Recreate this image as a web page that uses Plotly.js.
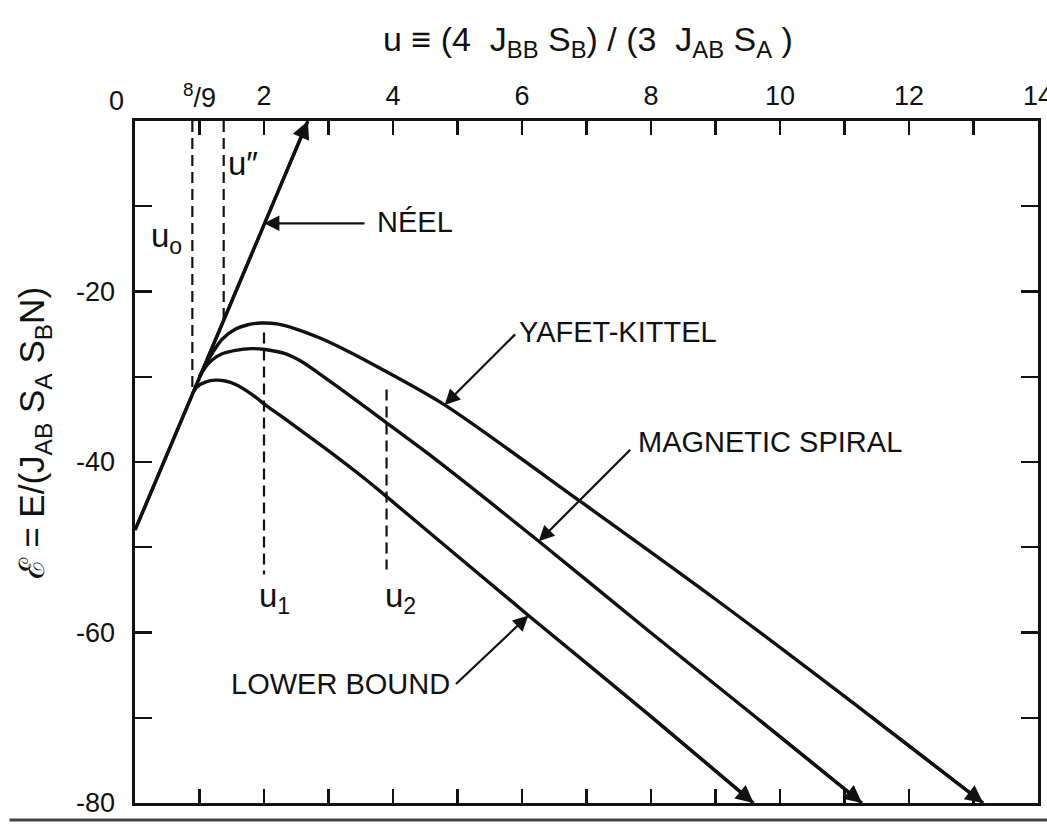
<!DOCTYPE html>
<html>
<head>
<meta charset="utf-8">
<script src="https://cdn.plot.ly/plotly-3.0.1.min.js"></script>
<style>
  html, body { margin: 0; padding: 0; background: #ffffff; }
  #chart { width: 1047px; height: 825px; }
</style>
</head>
<body>
<div id="chart"></div>
<script>
// Energy of the spin configurations versus u
const neelU = [0, 2.68];
const neelE = [-48, 0];

const ykU = [1.0, 1.1, 1.2, 1.35, 1.56, 1.75, 1.95, 2.2, 2.5, 2.85, 3.3, 3.8, 4.8, 6.9, 9.0, 11.4, 13.15];
const ykE = [-30.0, -28.5, -27.2, -25.6, -24.4, -23.9, -23.7, -23.8, -24.4, -25.4, -27.0, -29.0, -33.3, -44.6, -56.1, -69.8, -80.0];

const spiralU = [1.0, 1.1, 1.2, 1.35, 1.56, 1.8, 2.02, 2.33, 2.6, 2.85, 3.42, 3.88, 4.66, 6.26, 7.96, 9.67, 11.27];
const spiralE = [-30.0, -28.8, -28.0, -27.3, -26.9, -26.7, -26.8, -27.3, -28.3, -29.6, -32.7, -35.3, -39.7, -49.3, -59.8, -70.2, -80.0];

const lowerU = [0.889, 0.96, 1.1, 1.25, 1.4, 1.56, 1.8, 2.02, 2.3, 2.59, 3.11, 3.52, 3.78, 6.1, 7.96, 9.59];
const lowerE = [-32.0, -31.2, -30.6, -30.4, -30.5, -30.9, -32.0, -33.3, -34.8, -36.4, -39.3, -41.7, -43.3, -58.0, -69.6, -80.0];

// Characteristic values of u (dashed markers)
const guideU = [0.889, 1.375, 2.0, 3.9];
const guideFrom = [0, 0, -24.8, -31.5];
const guideTo = [-32.0, -23.2, -53.2, -52.6];
const guideLabels = ['u<sub>o</sub>', 'u\u2033', 'u<sub>1</sub>', 'u<sub>2</sub>'];

// Axis ticks
const xTickVals = [0,1,2,3,4,5,6,7,8,9,10,11,12,13,14];
const xTickText = ['','','2','','4','','6','','8','','10','','12','','14'];
const yTickVals = [-80,-70,-60,-50,-40,-30,-20,-10,0];
const yTickText = ['-80','','-60','','-40','','-20','',''];

const curveNames = ['N\u00c9EL', 'YAFET-KITTEL', 'MAGNETIC SPIRAL', 'LOWER BOUND'];

const FONT = 'Liberation Sans, Arial, sans-serif';
const INK = '#111111';

function curve(u, e) {
  return { x: u, y: e, type: 'scatter', mode: 'lines', hoverinfo: 'skip',
           line: { color: INK, width: 3.4, shape: 'spline', smoothing: 0.8 } };
}

const traces = [
  curve(neelU, neelE),
  curve(ykU, ykE),
  curve(spiralU, spiralE),
  curve(lowerU, lowerE)
];
guideU.forEach((u, i) => {
  traces.push({ x: [u, u], y: [guideFrom[i], guideTo[i]], type: 'scatter', mode: 'lines',
                hoverinfo: 'skip', line: { color: INK, width: 2.2, dash: '11px,6px' } });
});

const annotations = [];

// Arrowheads at the open ends of the curves
[[neelU, neelE], [ykU, ykE], [spiralU, spiralE], [lowerU, lowerE]].forEach(([u, e]) => {
  const n = u.length;
  annotations.push({ x: u[n - 1], y: e[n - 1], ax: u[n - 2], ay: e[n - 2],
    xref: 'x', yref: 'y', axref: 'x', ayref: 'y', text: '', showarrow: true,
    arrowhead: 2, arrowsize: 1.1, arrowwidth: 3.2, arrowcolor: INK, standoff: 0 });
});

// Curve labels with pointer arrows
function pointer(x, y, ax, ay) {
  annotations.push({ x: x, y: y, ax: ax, ay: ay, xref: 'x', yref: 'y', text: '',
    showarrow: true, arrowhead: 2, arrowsize: 1.4, arrowwidth: 2.2, arrowcolor: INK, standoff: 0 });
}
pointer(2.0, -12.0, 102, 0);
pointer(ykU[12], ykE[12], 72, -72);
pointer(spiralU[13], spiralE[13], 93, -93);
pointer(lowerU[13], lowerE[13], -74, 70);

function label(text, x, y, anchor, size) {
  annotations.push({ x: x, y: y, xref: 'x', yref: 'y', text: text, showarrow: false,
    xanchor: anchor, yanchor: 'middle', font: { family: FONT, size: size, color: INK } });
}
label(curveNames[0], 3.72, -11.9, 'left', 29);
label(curveNames[1], 5.92, -24.7, 'left', 29);
label(curveNames[2], 7.77, -37.7, 'left', 29);
label(curveNames[3], 4.92, -66.0, 'right', 29);

label(guideLabels[0], 0.49, -13.7, 'center', 33);
label(guideLabels[1], 1.68, -5.0, 'center', 33);
label(guideLabels[2], 2.17, -56.0, 'center', 33);
label(guideLabels[3], 4.12, -56.0, 'center', 33);

// Labels above the top axis: the u0 marker value and the origin
function paperLabel(text, x, y, size) {
  annotations.push({ xref: 'paper', yref: 'paper', x: x, y: y, text: text, showarrow: false,
    xanchor: 'center', yanchor: 'middle', font: { family: FONT, size: size, color: INK } });
}
paperLabel('<sup>8</sup>/9', 0.071, 1.036, 27);
paperLabel('0', -0.021, 1.03, 27);

// Axis titles
annotations.push({ xref: 'paper', yref: 'paper', x: 0.502, y: 1.117, showarrow: false,
  text: 'u \u2261 (4  J<sub>BB</sub> S<sub>B</sub>) / (3  J<sub>AB</sub> S<sub>A</sub> )',
  xanchor: 'center', yanchor: 'middle', font: { family: FONT, size: 34, color: INK } });
annotations.push({ xref: 'paper', yref: 'paper', x: -0.112, y: 0.543, showarrow: false,
  textangle: -90,
  text: '\u2130 = E/(J<sub>AB</sub> S<sub>A</sub> S<sub>B</sub>N)',
  xanchor: 'center', yanchor: 'middle', font: { family: FONT, size: 35, color: INK } });

const layout = {
  width: 1047, height: 825,
  margin: { l: 135, r: 9, t: 121, b: 22 },
  paper_bgcolor: '#ffffff', plot_bgcolor: '#ffffff',
  showlegend: false,
  xaxis: {
    range: [0, 14], side: 'top', showgrid: false, zeroline: false,
    tickmode: 'array', tickvals: xTickVals, ticktext: xTickText,
    ticks: 'inside', ticklen: 14, tickwidth: 2.2, tickcolor: INK,
    showline: true, linewidth: 2.6, linecolor: INK, mirror: 'ticks',
    ticklabelstandoff: 3, ticklabeloverflow: 'allow',
    tickfont: { family: FONT, size: 27, color: INK }
  },
  yaxis: {
    range: [-80, 0], showgrid: false, zeroline: false,
    tickmode: 'array', tickvals: yTickVals, ticktext: yTickText,
    ticks: 'inside', ticklen: 17, tickwidth: 2.2, tickcolor: INK,
    showline: true, linewidth: 2.6, linecolor: INK, mirror: 'ticks',
    ticklabelstandoff: 12,
    tickfont: { family: FONT, size: 27, color: INK }
  },
  shapes: [
    { type: 'line', xref: 'paper', yref: 'paper', x0: -0.139, x1: 1.02, y0: -0.025, y1: -0.025,
      line: { color: '#444444', width: 3 } }
  ],
  annotations: annotations
};

Plotly.newPlot('chart', traces, layout, { staticPlot: true, displayModeBar: false });
</script>
</body>
</html>
